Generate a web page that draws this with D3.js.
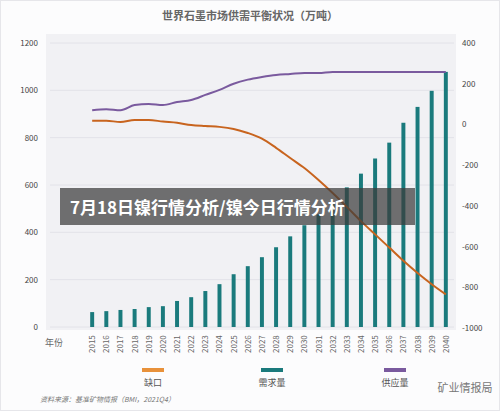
<!DOCTYPE html><html><head><meta charset="utf-8"><script src="https://d3js.org/d3.v7.min.js"></script>
<style>body{margin:0;background:#fff}</style></head><body><script>
const years=d3.range(2015,2041).map(String);
const demand=[63,67,72,76,84,88,110,126,152,181,223,257,295,337,383,430,476,526,590,648,712,779,863,930,998,1078];
const supply=[70,75,70,95,100,95,110,120,145,170,200,220,233,243,248,253,253,258,258,258,258,258,258,258,258,258];
const gap=[18,18,12,22,22,14,8,-3,-8,-12,-22,-42,-70,-115,-165,-214,-273,-337,-405,-475,-540,-605,-670,-730,-785,-835];
const leftTicks=[0,200,400,600,800,1000,1200];
const rightTicks=[400,200,0,-200,-400,-600,-800,-1000];
const W=500,H=411;
const svg=d3.select("body").append("svg").attr("width",W).attr("height",H);
const F="'Noto Sans CJK SC',sans-serif";
svg.append("rect").attr("x",0.5).attr("y",0.5).attr("width",W-1).attr("height",H-1).attr("fill","#fcfcfd").attr("stroke","#e6e6ea");
const x=d3.scaleBand().domain(years).range([80,458]).padding(0.72);
const yl=d3.scaleLinear().domain([0,1200]).range([327,43]);
const yr=d3.scaleLinear().domain([-1000,400]).range([328,43]);
svg.append("rect").attr("x",46).attr("y",34).attr("width",410).attr("height",296).attr("fill","#f1f1f4");
svg.append("g").selectAll("line").data(leftTicks).join("line").attr("x1",50).attr("x2",454).attr("y1",d=>yl(d)).attr("y2",d=>yl(d)).attr("stroke","#e2e2e8");
svg.append("text").attr("x",250).attr("y",20).attr("text-anchor","middle").attr("font-family",F).attr("font-size",11).attr("fill","#666").attr("font-weight","bold").text("世界石墨市场供需平衡状况（万吨）");
const la=svg.append("g").attr("transform","translate(38,0)").call(d3.axisLeft(yl).tickValues(leftTicks).tickFormat(String).tickSize(0).tickPadding(0));
la.select(".domain").remove();la.selectAll("text").attr("font-size",8).attr("fill","#444").attr("font-family",F);
const ra=svg.append("g").attr("transform","translate(462,0)").call(d3.axisRight(yr).tickValues(rightTicks).tickFormat(String).tickSize(0).tickPadding(0));
ra.select(".domain").remove();ra.selectAll("text").attr("font-size",8).attr("fill","#444").attr("font-family",F);
svg.append("g").selectAll("rect").data(demand).join("rect").attr("x",(d,i)=>x(years[i])).attr("width",x.bandwidth()).attr("y",d=>yl(d)).attr("height",d=>yl(0)-yl(d)).attr("fill","#1a7a7c");
const cx=(d,i)=>x(years[i])+x.bandwidth()/2;
svg.append("path").datum(supply).attr("d",d3.line().x(cx).y(d=>yr(d)).curve(d3.curveMonotoneX)).attr("fill","none").attr("stroke","#7a5a9e").attr("stroke-width",2);
svg.append("path").datum(gap).attr("d",d3.line().x(cx).y(d=>yr(d)).curve(d3.curveMonotoneX)).attr("fill","none").attr("stroke","#c8641e").attr("stroke-width",2);
svg.append("g").selectAll("text").data(years).join("text").attr("transform",d=>`translate(${x(d)+x.bandwidth()/2+3},353) rotate(-90)`).attr("font-size",8).attr("fill","#666").attr("font-family",F).text(d=>d);
svg.append("text").attr("x",45).attr("y",346).attr("font-size",9).attr("fill","#666").attr("font-family",F).text("年份");
const leg=[["缺口","#e8913a",153],["需求量","#1a7a7c",272],["供应量","#7a5a9e",395]];
leg.forEach(([t,c,lx])=>{svg.append("rect").attr("x",lx-11).attr("y",368).attr("width",22).attr("height",4).attr("fill",c);
svg.append("text").attr("x",lx).attr("y",386).attr("text-anchor","middle").attr("font-size",9).attr("fill","#555").attr("font-family",F).text(t);});
svg.append("text").attr("x",465).attr("y",392).attr("text-anchor","middle").attr("font-size",11).attr("fill","#777").attr("font-family",F).text("矿业情报局");
svg.append("text").attr("x",40).attr("y",402).attr("font-size",7).attr("font-style","italic").attr("fill","#777").attr("font-family",F).text("资料来源：基准矿物情报（BMI，2021Q4）");
svg.append("rect").attr("x",60).attr("y",188).attr("width",355).attr("height",37).attr("fill","rgba(60,60,60,0.72)");
svg.append("text").attr("x",70).attr("y",214).attr("font-size",17).attr("font-weight","bold").attr("fill","#fff").attr("font-family",F).text("7月18日镍行情分析/镍今日行情分析");
</script></body></html>
